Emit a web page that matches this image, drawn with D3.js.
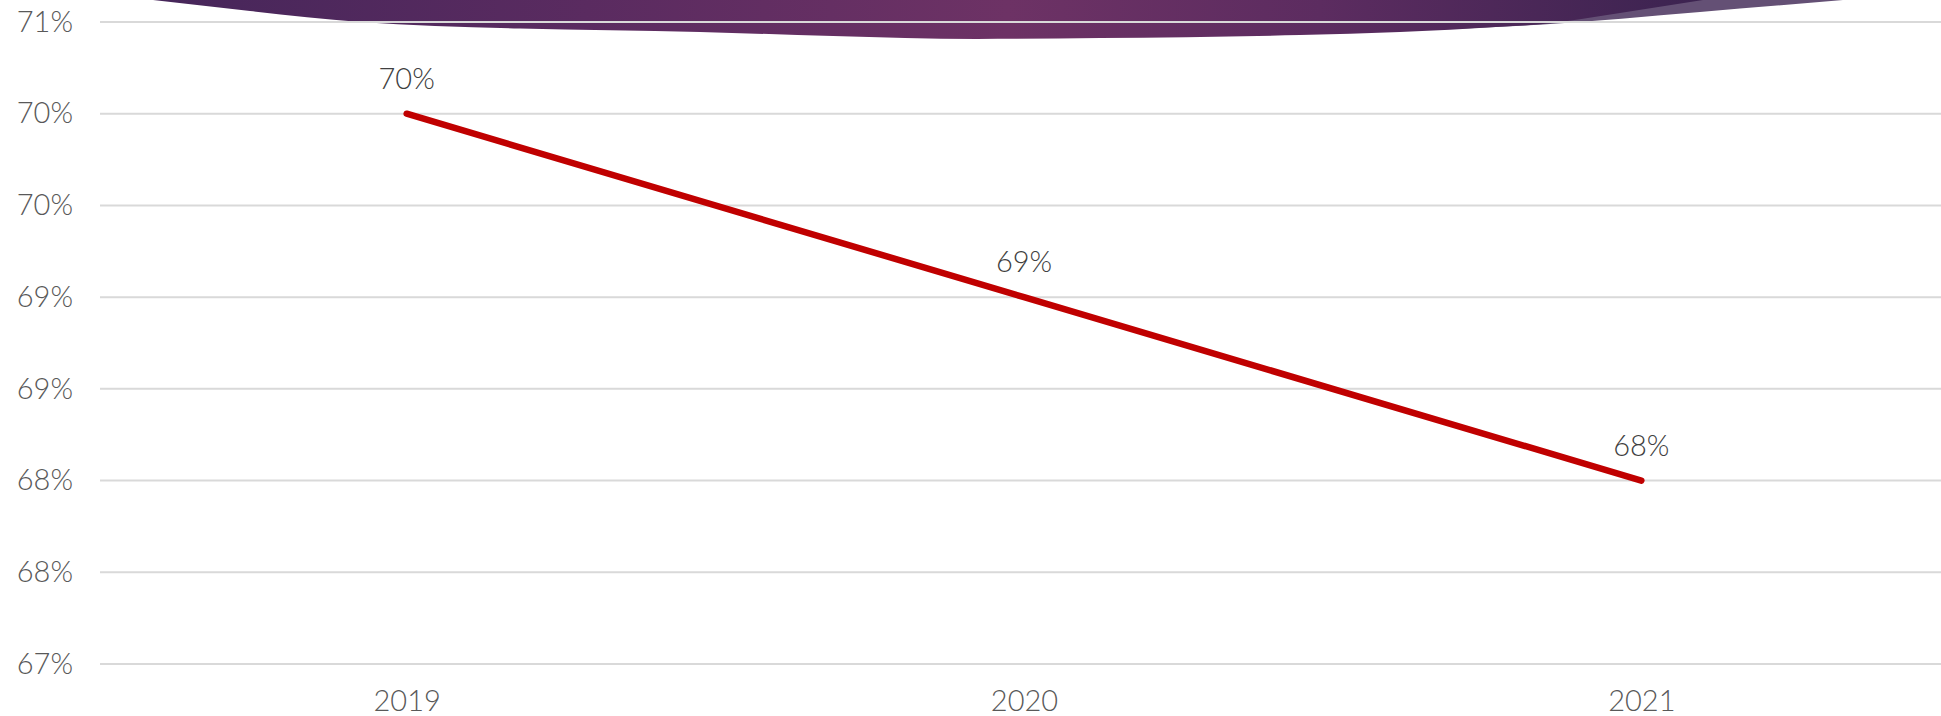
<!DOCTYPE html>
<html>
<head>
<meta charset="utf-8">
<script src="https://cdn.jsdelivr.net/npm/d3@7"></script>
<style>
  html, body { margin: 0; padding: 0; background: #ffffff; }
  svg { display: block; }
  text { font-family: "Lato", "Noto Sans", sans-serif; font-weight: 300; }
</style>
</head>
<body>
<svg id="chart" width="1941" height="716"></svg>
<script>
// Share by year
const years = ["2019", "2020", "2021"];
const shares = [0.70, 0.69, 0.68];
const dataLabels = ["70%", "69%", "68%"];

// Y axis ticks (every half point) and their printed labels
const tickValues = [0.670, 0.675, 0.680, 0.685, 0.690, 0.695, 0.700, 0.705];
const tickLabels = ["67%", "68%", "68%", "69%", "69%", "70%", "70%", "71%"];

const W = 1941, H = 716;
const svg = d3.select("#chart");

const x = d3.scalePoint().domain(years).range([98, 1950]).padding(0.5);
const y = d3.scaleLinear().domain([0.670, 0.705]).range([664, 22]);

// Decorative banner along the top edge
const defs = svg.append("defs");
const grad = defs.append("linearGradient")
  .attr("id", "bannerGrad")
  .attr("gradientUnits", "userSpaceOnUse")
  .attr("x1", 150).attr("y1", 0).attr("x2", 1710).attr("y2", 0);
[[0, "#46265a"], [0.28, "#5a2b60"], [0.55, "#6d3265"], [0.75, "#5c2c60"], [1, "#3b2350"]]
  .forEach(([o, c]) => grad.append("stop").attr("offset", o).attr("stop-color", c));

const deco = svg.append("g").attr("class", "banner");
const edge = d3.line().curve(d3.curveMonotoneX);
// lighter lobe on the right
deco.append("path")
  .attr("d", "M1300,-2L1300,33" + edge([[1300, 33], [1543, 24.5], [1700, 12], [1843, 0]]).replace(/^M[^CL]*/, "") + "L1843,-2Z")
  .attr("fill", "#645075");
// main lobe
deco.append("path")
  .attr("d", "M153,-2L153,0" + edge([[153, 0], [250, 11], [360, 22], [520, 28.5], [700, 32], [833, 36], [977, 39],
                   [1100, 38], [1300, 35], [1400, 32], [1500, 26.7], [1543, 24], [1620, 13], [1703, 0]]).replace(/^M[^CL]*/, "") + "L1703,-2Z")
  .attr("fill", "url(#bannerGrad)");

// Gridlines
svg.append("g").attr("class", "grid")
  .selectAll("line").data(tickValues).join("line")
  .attr("x1", 100).attr("x2", W)
  .attr("y1", d => y(d)).attr("y2", d => y(d))
  .attr("stroke", "#d9d9d9").attr("stroke-width", 2);

// Y axis labels
const yAxis = d3.axisLeft(y).tickValues(tickValues)
  .tickFormat((d, i) => tickLabels[i]).tickSize(0).tickPadding(0);
const gy = svg.append("g").attr("transform", "translate(73,0)").call(yAxis);
gy.select(".domain").remove();
gy.selectAll("text")
  .attr("fill", "#595959").attr("font-size", 29).attr("font-weight", 300)
  .attr("font-family", "Lato, 'Noto Sans', sans-serif");

// X axis labels
const xAxis = d3.axisBottom(x).tickSize(0).tickPadding(0);
const gx = svg.append("g").attr("transform", "translate(0,683)").call(xAxis);
gx.select(".domain").remove();
gx.selectAll("text")
  .attr("fill", "#595959").attr("font-size", 29).attr("font-weight", 300).attr("dy", "0.35em")
  .attr("y", 18)
  .attr("font-family", "Lato, 'Noto Sans', sans-serif");

// Series line
const pts = years.map((yr, i) => [x(yr), y(shares[i])]);
svg.append("path")
  .attr("d", d3.line()(pts))
  .attr("fill", "none")
  .attr("stroke", "#c00000")
  .attr("stroke-width", 6.5)
  .attr("stroke-linecap", "round")
  .attr("stroke-linejoin", "round");

// Value labels above each point
svg.append("g").selectAll("text").data(years).join("text")
  .attr("x", d => x(d))
  .attr("y", (d, i) => y(shares[i]) - 35)
  .attr("dy", "0.35em")
  .attr("text-anchor", "middle")
  .attr("fill", "#404040")
  .attr("font-size", 29)
  .text((d, i) => dataLabels[i]);
</script>
</body>
</html>
